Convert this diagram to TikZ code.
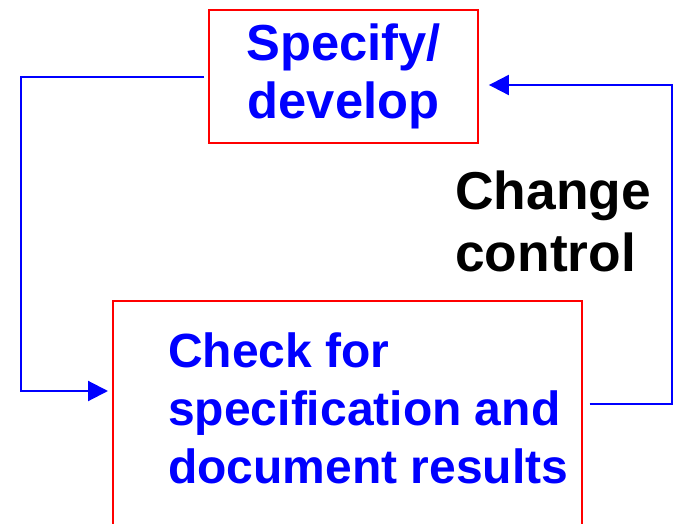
\documentclass[tikz,border=0pt]{standalone}
\usepackage{fontspec}
\setmainfont{Liberation Sans}
\usetikzlibrary{arrows.meta}

\begin{document}
\begin{tikzpicture}[x=0.75pt, y=-0.75pt,
    stage/.style={rectangle, draw=red, line width=1.4pt, inner sep=0pt},
    bluetext/.style={text=blue, font=\fontsize{36}{43.5}\selectfont\bfseries, inner sep=0pt},
    flow/.style={draw=blue, line width=1.6pt, -{Triangle[length=15pt, width=15pt]}}]
    \clip (0,0) rectangle (675,524);

    \node[stage, minimum width=201.75pt, minimum height=99.75pt, align=center,
          text=blue, font=\fontsize{38}{44}\selectfont\bfseries] (spec) at (343.5,76.5) {Specify/\\develop};
    \node[stage, minimum width=351.75pt, minimum height=195pt, anchor=north west] (check) at (112,300) {};
    \node[bluetext, anchor=north west, align=left] (checktxt) at (168,332) {Check for\\specification and\\document results};

    \node[anchor=north west, align=left, inner sep=0pt,
          font=\fontsize{40}{46}\selectfont\bfseries] (cc) at (455,171) {Change\\control};

    % corners of the loop
    \coordinate (lcorner) at (21,391);
    \coordinate (rbot) at (672,404);
    \coordinate (rtop) at (672,85);

    \draw[flow, shorten <=3pt, shorten >=3pt] (spec.west |- 0,77) -| (lcorner) -- (lcorner -| check.west);
    \draw[flow, shorten <=5pt, shorten >=7.5pt] (rbot -| check.east) -- (rbot) -- (rtop) -- (rtop -| spec.east);
\end{tikzpicture}
\end{document}
